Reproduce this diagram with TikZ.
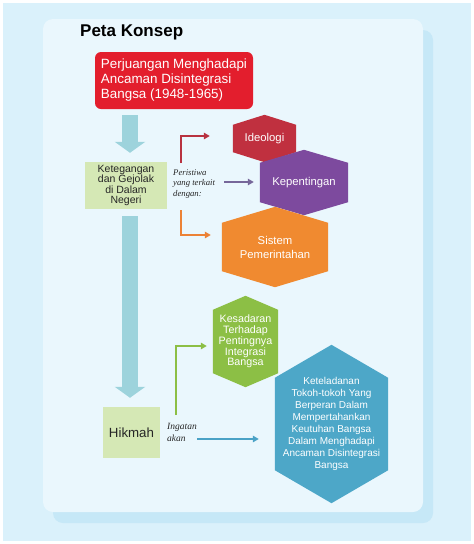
\documentclass[tikz,border=0pt]{standalone}
\usepackage{fontspec}
\setmainfont{Liberation Sans}
\newfontfamily\notefont{Liberation Serif}
\usetikzlibrary{arrows.meta,calc}
\pgfdeclarelayer{panel}
\pgfdeclarelayer{shapes}
\pgfsetlayers{panel,shapes,main}

\definecolor{cOuter}{HTML}{DAF1FB}
\definecolor{cShadow}{HTML}{C6E8F7}
\definecolor{cInner}{HTML}{EAF7FD}
\definecolor{cRed}{HTML}{E31E2D}
\definecolor{cIdeo}{HTML}{C0303F}
\definecolor{cKep}{HTML}{7D4A9E}
\definecolor{cSis}{HTML}{F08A30}
\definecolor{cKes}{HTML}{8CBF45}
\definecolor{cKet}{HTML}{4DA7C8}
\definecolor{cBox}{HTML}{D5E8B5}
\definecolor{cTeal}{HTML}{9DD3DC}
\definecolor{aRed}{HTML}{B83240}
\definecolor{aPur}{HTML}{76679A}
\definecolor{aOra}{HTML}{EC8236}
\definecolor{aGre}{HTML}{8CBF45}
\definecolor{aBlu}{HTML}{4AA2C6}

\newcommand\hexfill[3]{%
  \begin{pgfonlayer}{shapes}
  \fill[#3] (#1.north) -- ($(#1.north east)+(0,#2)$) -- ($(#1.south east)+(0,-#2)$)
    -- (#1.south) -- ($(#1.south west)+(0,-#2)$) -- ($(#1.north west)+(0,#2)$) -- cycle;
  \end{pgfonlayer}}

\tikzset{
  redbox/.style={fill=cRed, rounded corners=6pt, minimum width=158pt, minimum height=57pt,
    text=white, align=left, inner sep=0pt, font=\fontsize{13.4}{15}\selectfont},
  greenbox/.style={fill=cBox, inner sep=0pt, align=center, text=black!85,
    font=\fontsize{10.5}{10.5}\selectfont},
  note/.style={inner sep=0pt, align=left, text=black!85,
    font=\notefont\itshape\fontsize{8.7}{10.5}\selectfont},
  hexnode/.style={inner sep=0pt, text=white, align=center,
    font=\fontsize{11.3}{14}\selectfont},
  thinarr/.style={line width=1.8pt, -{Triangle[width=6.5pt,length=6pt]}},
  bigarr/.style={draw=cTeal, line width=16pt, -{Triangle[width=30pt,length=11pt]}},
}

\begin{document}
\begin{tikzpicture}[x=1pt,y=-1pt]
\useasboundingbox (0,0) rectangle (474,544);
\begin{pgfonlayer}{panel}
\fill[white] (0,0) rectangle (474,544);
\fill[cOuter] (3,3) rectangle (471,541);
\fill[cShadow, rounded corners=10pt] (53,30) rectangle (433,523);
\fill[cInner, rounded corners=10pt] (43,19) rectangle (423,512);
\end{pgfonlayer}

\node[font=\bfseries\fontsize{17}{20}\selectfont, anchor=west, inner sep=0pt] (title) at (80,32) {Peta Konsep};

\node[redbox] (red) at (174,80.5) {Perjuangan Menghadapi\\Ancaman Disintegrasi\\Bangsa (1948-1965)};

\node[greenbox, minimum width=82pt, minimum height=47pt] (keteg) at (126,185.5) {Ketegangan\\dan Gejolak\\di Dalam\\Negeri};
\node[greenbox, minimum width=57pt, minimum height=51pt, font=\fontsize{13.3}{15}\selectfont] (hik) at (131.5,432.5) {Hikmah};

\node[note, anchor=west] (per) at (173,184) {Peristiwa\\yang terkait\\dengan:};
\node[note, anchor=west, font=\notefont\itshape\fontsize{9.5}{12}\selectfont] (ing) at (167,432) {Ingatan\\akan};

\node[hexnode, minimum width=63pt, minimum height=47pt] (ideo) at (264.5,138.5) {Ideologi};
\node[hexnode, minimum width=88pt, minimum height=65pt] (kep) at (304,182.5) {Kepentingan};
\node[hexnode, minimum width=106pt, minimum height=80pt] (sis) at (275,247) {Sistem\\Pemerintahan};
\node[hexnode, minimum width=65pt, minimum height=91pt, font=\fontsize{10.7}{10.8}\selectfont] (kes) at (245.5,341.5) {Kesadaran\\Terhadap\\Pentingnya\\Integrasi\\Bangsa};
\node[hexnode, minimum width=113pt, minimum height=158pt, font=\fontsize{10}{11.9}\selectfont] (ket) at (331.5,424) {Keteladanan\\Tokoh-tokoh Yang\\Berperan Dalam\\Mempertahankan\\Keutuhan Bangsa\\Dalam Menghadapi\\Ancaman Disintegrasi\\Bangsa};

\hexfill{ideo}{10}{cIdeo}
\hexfill{kep}{13}{cKep}
\hexfill{sis}{16}{cSis}
\hexfill{kes}{14}{cKes}
\hexfill{ket}{33}{cKet}

% big teal arrows
\draw[bigarr] ($(keteg.north |- red.south)+(4,6)$) -- ($(keteg.north)+(4,-9)$);
\draw[bigarr] ($(keteg.south)+(4,7)$) -- ($(hik.north)+(-1.5,-9)$);

% thin connectors
\coordinate (rs) at (181,163);
\coordinate (ps) at (224,182);
\coordinate (os) at (181,210);
\coordinate (gs) at (176,415);
\coordinate (bs) at (197,439);
\draw[thinarr, draw=aRed, color=aRed] (rs) |- ($(ideo.west)+(-23,-2.5)$);
\draw[thinarr, draw=aPur, color=aPur, line width=1.3pt] (ps) -- ($(ps -| kep.west)+(-6,0)$);
\draw[thinarr, draw=aOra, color=aOra] (os) |- ($(sis.west)+(-11,-12)$);
\draw[thinarr, draw=aGre, color=aGre] (gs) |- ($(kes.west)+(-6,4.5)$);
\draw[thinarr, draw=aBlu, color=aBlu, line width=1.5pt] (bs) -- ($(bs -| ket.west)+(-16,0)$);
\end{tikzpicture}
\end{document}
